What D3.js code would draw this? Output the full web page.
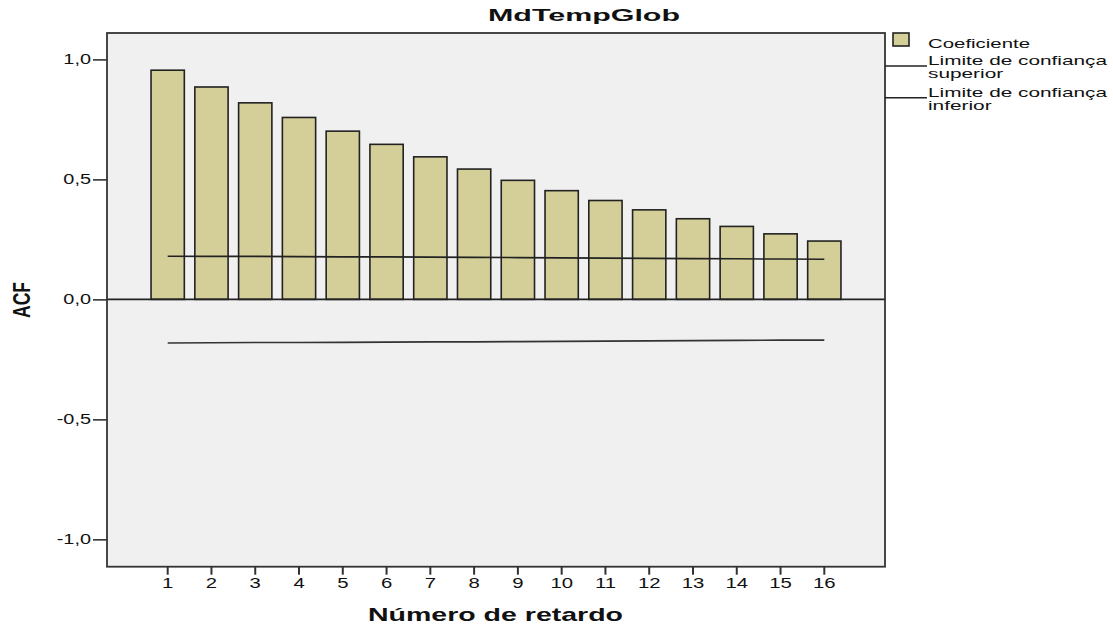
<!DOCTYPE html>
<html><head><meta charset="utf-8">
<script src="https://cdn.jsdelivr.net/npm/d3@7"></script>
<style>
html,body{margin:0;padding:0;background:#fff;}
text{font-family:"Liberation Sans",Arial,sans-serif;fill:#111;}
</style></head>
<body><svg id="c" width="1113" height="627"></svg>
<script>
const lags = [1,2,3,4,5,6,7,8,9,10,11,12,13,14,15,16];
const acf = [0.955,0.885,0.819,0.758,0.701,0.646,0.594,0.543,0.496,0.453,0.412,0.373,0.336,0.304,0.273,0.243];
const upperLimit = [0.180,0.179,0.179,0.178,0.177,0.177,0.176,0.175,0.174,0.173,0.172,0.171,0.170,0.169,0.168,0.167];
const lowerLimit = [-0.182,-0.181,-0.180,-0.180,-0.179,-0.178,-0.177,-0.177,-0.176,-0.175,-0.174,-0.173,-0.172,-0.171,-0.170,-0.170];
const yTicks = [1.0,0.5,0.0,-0.5,-1.0];
const yTickLabels = ["1,0","0,5","0,0","-0,5","-1,0"];
const title = "MdTempGlob";
const xTitle = "Número de retardo";
const yTitle = "ACF";
const legendLabels = ["Coeficiente", ["Limite de confiança","superior"], ["Limite de confiança","inferior"]];

const svg = d3.select("#c");
const L=107, R=885, T=33, B=566.7;
const barFill = "#d4cf98", ink="#222";

function stretch(sel, f){ sel.each(function(){ const w=this.getComputedTextLength(); d3.select(this).attr("textLength", w*f).attr("lengthAdjust","spacingAndGlyphs"); }); }

const x = d3.scaleBand().domain(lags).range([145.8, 846.2]).paddingInner(0.24).paddingOuter(0.12);
const y = d3.scaleLinear().domain([-1.114, 1.11]).range([B, T]);

svg.append("rect").attr("x",L).attr("y",T).attr("width",R-L).attr("height",B-T).attr("fill","#f0f0f0");

svg.append("g").selectAll("rect").data(lags).join("rect")
  .attr("x", d=>x(d)).attr("width", x.bandwidth())
  .attr("y", (d,i)=>y(acf[i])).attr("height",(d,i)=>y(0)-y(acf[i]))
  .attr("fill",barFill).attr("stroke",ink).attr("stroke-width",1.6);

svg.append("line").attr("x1",L).attr("x2",R).attr("y1",y(0)).attr("y2",y(0)).attr("stroke",ink).attr("stroke-width",1.6);

const line = d3.line().x((d,i)=>x(lags[i])+x.bandwidth()/2).y(d=>y(d));
svg.append("path").attr("d", line(upperLimit)).attr("fill","none").attr("stroke",ink).attr("stroke-width",1.6);
svg.append("path").attr("d", line(lowerLimit)).attr("fill","none").attr("stroke","#333").attr("stroke-width",1.6);

svg.append("rect").attr("x",L).attr("y",T).attr("width",R-L).attr("height",B-T).attr("fill","none").attr("stroke","#333").attr("stroke-width",1.8);

// y axis
const ya = svg.append("g").attr("transform",`translate(${L},0)`)
  .call(d3.axisLeft(y).tickValues(yTicks).tickSize(14).tickPadding(2).tickFormat((d,i)=>yTickLabels[i]));
ya.select(".domain").remove();
ya.selectAll("line").attr("stroke","#333").attr("stroke-width",1.6);
ya.selectAll("text").attr("font-size",14).attr("font-family","Liberation Sans, Arial").attr("fill","#222");
stretch(ya.selectAll("text"),1.42);

// x axis
const xa = svg.append("g").attr("transform",`translate(0,${B})`)
  .call(d3.axisBottom(x).tickSize(8).tickPadding(3));
xa.select(".domain").remove();
xa.selectAll("line").attr("stroke","#333").attr("stroke-width",2);
xa.selectAll("text").attr("font-size",14).attr("font-family","Liberation Sans, Arial").attr("fill","#222");
stretch(xa.selectAll("text"),1.45);

// titles
const tt = svg.append("text").attr("x",584).attr("y",21).attr("text-anchor","middle")
  .attr("font-size",17).attr("font-weight","bold").text(title);
tt.attr("textLength",192).attr("lengthAdjust","spacingAndGlyphs");

const xt = svg.append("text").attr("x",495.5).attr("y",621).attr("text-anchor","middle")
  .attr("font-size",19).attr("font-weight","bold").text(xTitle);
xt.attr("textLength",255).attr("lengthAdjust","spacingAndGlyphs");

svg.append("text").attr("transform","translate(30,300) scale(1.4,1) rotate(-90)")
  .attr("text-anchor","middle").attr("font-size",17.5).attr("font-weight","bold").text(yTitle);

// legend
const lg = svg.append("g");
lg.append("rect").attr("x",893).attr("y",33).attr("width",16).attr("height",13).attr("fill",barFill).attr("stroke",ink).attr("stroke-width",1.6);
lg.append("text").attr("x",928).attr("y",48).attr("font-size",13).text(legendLabels[0])
  .attr("textLength",102).attr("lengthAdjust","spacingAndGlyphs");
[[66,65,78],[97.7,97,110]].forEach((p,k)=>{
  lg.append("line").attr("x1",R).attr("x2",927).attr("y1",p[0]).attr("y2",p[0]).attr("stroke",ink).attr("stroke-width",1.5);
  lg.append("text").attr("x",928).attr("y",p[1]).attr("font-size",13).text(legendLabels[k+1][0])
    .attr("textLength",179).attr("lengthAdjust","spacingAndGlyphs");
  const t2 = lg.append("text").attr("x",928).attr("y",p[2]).attr("font-size",13).text(legendLabels[k+1][1]);
  stretch(t2,1.6);
});
</script></body></html>
